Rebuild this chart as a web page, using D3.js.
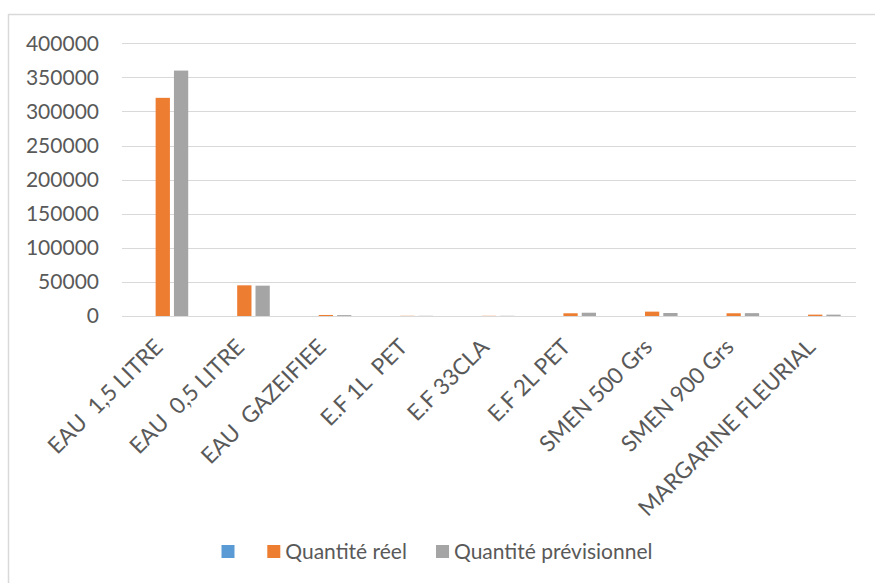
<!DOCTYPE html>
<html>
<head>
<meta charset="utf-8">
<script src="https://cdn.jsdelivr.net/npm/d3@7"></script>
<style>
  html, body { margin: 0; padding: 0; background: #ffffff; }
  svg { display: block; font-family: Lato, "Noto Sans", sans-serif; }
  text { white-space: pre; }
</style>
</head>
<body>
<svg id="chart" width="875" height="583"></svg>
<script>
// Product categories (x axis)
const categories = [
  "EAU  1,5 LITRE",
  "EAU  0,5 LITRE",
  "EAU  GAZEIFIEE",
  "E.F 1L  PET",
  "E.F 33CLA",
  "E.F 2L PET",
  "SMEN 500 Grs",
  "SMEN 900 Grs",
  "MARGARINE FLEURIAL"
];

// Series names (the first one has no name and no values)
const seriesNames = ["", "Quantité réel", "Quantité prévisionnel"];

// Values per series, one per category
const blankSeries = [0, 0, 0, 0, 0, 0, 0, 0, 0];
const quantiteReel = [320000, 45000, 1500, 300, 300, 4000, 6400, 4000, 2000];
const quantitePrevisionnel = [360000, 44500, 1300, 300, 300, 4800, 4400, 4200, 2000];

// Y axis ticks
const yTicks = [0, 50000, 100000, 150000, 200000, 250000, 300000, 350000, 400000];

const seriesColors = ["#5b9bd5", "#ed7d31", "#a5a5a5"];
const seriesValues = [blankSeries, quantiteReel, quantitePrevisionnel];

const svg = d3.select("#chart");
const textColor = "#595959";
const fontSize = 21;
const labelFontSize = 22.5;

// chart frame (left and top edges)
svg.append("line").attr("x1", 8.5).attr("x2", 8.5).attr("y1", 14).attr("y2", 583)
  .attr("stroke", "#d9d9d9").attr("stroke-width", 1.5);
svg.append("line").attr("x1", 8).attr("x2", 875).attr("y1", 14.5).attr("y2", 14.5)
  .attr("stroke", "#d9d9d9").attr("stroke-width", 1.5);

const plot = { left: 122, right: 856, top: 43.3, bottom: 316 };

const y = d3.scaleLinear().domain([0, 400000]).range([plot.bottom, plot.top]);
const x0 = d3.scaleBand().domain(categories).range([plot.left, plot.right]).padding(0);
const groupWidth = 50.9;
const x1 = d3.scaleBand().domain(d3.range(seriesNames.length))
  .range([-groupWidth / 2, groupWidth / 2]).paddingInner(0.22);

// gridlines
svg.append("g").selectAll("line").data(yTicks).join("line")
  .attr("x1", plot.left).attr("x2", plot.right)
  .attr("y1", d => Math.round(y(d)) + 0.5).attr("y2", d => Math.round(y(d)) + 0.5)
  .attr("stroke", "#d9d9d9").attr("stroke-width", 1.2);

// y axis labels
const yAxis = d3.axisLeft(y).tickValues(yTicks).tickSize(0).tickPadding(0)
  .tickFormat(d3.format("d"));
const gy = svg.append("g").attr("transform", `translate(99,0)`).call(yAxis);
gy.select(".domain").remove();
gy.selectAll("text").attr("fill", textColor).style("font-size", fontSize + "px")
  .style("font-family", "Lato, 'Noto Sans', sans-serif");

// bars
const groups = svg.append("g").selectAll("g").data(categories).join("g")
  .attr("transform", c => `translate(${x0(c) + x0.bandwidth() / 2},0)`);
groups.selectAll("rect")
  .data((c, i) => seriesValues.map((vals, s) => ({ s, v: vals[i] })))
  .join("rect")
  .attr("x", d => x1(d.s))
  .attr("width", x1.bandwidth())
  .attr("y", d => y(d.v))
  .attr("height", d => plot.bottom - y(d.v))
  .attr("fill", d => seriesColors[d.s]);

// x axis labels, rotated
const xAxis = d3.axisBottom(x0).tickSize(0).tickPadding(0);
const gx = svg.append("g").attr("transform", `translate(0,${plot.bottom})`).call(xAxis);
gx.select(".domain").remove();
gx.selectAll("text")
  .attr("fill", textColor)
  .style("font-size", labelFontSize + "px")
  .style("font-family", "Lato, 'Noto Sans', sans-serif")
  .attr("text-anchor", "end")
  .attr("y", 0).attr("dy", "0.72em")
  .attr("transform", "translate(-10,21) rotate(-45)");

// legend
const legendItems = [
  { name: seriesNames[0], color: seriesColors[0], x: 221.5 },
  { name: seriesNames[1], color: seriesColors[1], x: 267.3 },
  { name: seriesNames[2], color: seriesColors[2], x: 436 }
];
const lg = svg.append("g").selectAll("g").data(legendItems).join("g")
  .attr("transform", d => `translate(${d.x},545)`);
lg.append("rect").attr("width", 13).attr("height", 13).attr("fill", d => d.color);
lg.append("text").attr("x", 18).attr("y", 6.5).attr("dy", "0.35em")
  .attr("fill", textColor).style("font-size", fontSize + "px")
  .text(d => d.name);
</script>
</body>
</html>
